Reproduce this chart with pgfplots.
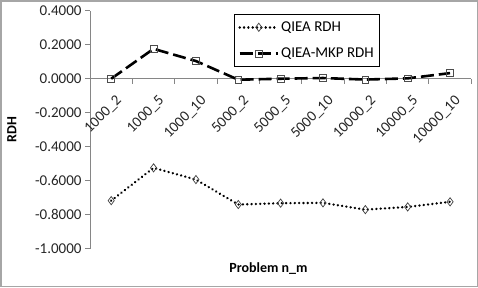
\documentclass[border=0pt]{standalone}
\usepackage{pgfplots}
\pgfplotsset{compat=1.18}
\usepackage{fontspec}
\setmainfont{Carlito}
\definecolor{axgray}{HTML}{868686}
\definecolor{framegray}{HTML}{A6A6A6}
\begin{document}
\begin{tikzpicture}
\draw[framegray, line width=1.5bp] (-89bp,-38bp) rectangle (386bp,247bp);
\begin{axis}[
  at={(0bp,0bp)}, anchor=south west,
  scale only axis, width=380bp, height=237bp,
  xmin=-0.5, xmax=8.5, ymin=-1, ymax=0.4,
  axis x line=middle, axis y line=left,
  axis line style={-, draw=axgray, line width=0.8bp},
  every tick/.style={draw=axgray, line width=0.8bp},
  tick align=outside,
  major tick length=5bp, minor tick length=5bp,
  ytick={-1,-0.8,...,0.41},
  xtick={0,...,8},
  x tick style={draw=none},
  minor xtick={0.5,1.5,...,8.5},
  minor x tick style={draw=axgray, line width=0.8bp},
  xticklabels={1000\_2,1000\_5,1000\_10,5000\_2,5000\_5,5000\_10,10000\_2,10000\_5,10000\_10},
  x tick label style={xshift=4bp, yshift=-9bp, rotate=45, anchor=north east, inner sep=1bp},
  y tick label style={/pgf/number format/.cd, fixed, fixed zerofill, precision=4, /tikz/.cd},
  /pgf/number format/assume math mode=true,
  tick label style={font=\fontsize{15}{17}\selectfont, text=black!85},
  ylabel={\textbf{RDH}},
  ylabel style={at={(axis description cs:-0.205,0.5)}, anchor=center, font=\fontsize{14}{16}\selectfont},
  xlabel={\textbf{Problem n\_m}},
  xlabel style={at={(axis description cs:0.468,-0.085)}, anchor=center, font=\fontsize{14}{16}\selectfont},
  legend style={at={(axis description cs:0.378,0.985)}, anchor=north west, draw=black, line width=0.6bp,
    font=\fontsize{15}{17}\selectfont, inner xsep=4bp, inner ysep=5bp, row sep=11bp},
  legend cell align=left,
  legend image code/.code={\draw[mark repeat=2,mark phase=2,#1] plot coordinates {(0bp,0bp) (19bp,0bp) (38bp,0bp)};},
]
\addplot[black, line width=2.6bp, line cap=round, dash pattern=on 0.01bp off 4.3bp,
  mark=diamond, mark size=4.1bp, mark options={solid, draw=black!75, fill=white, line width=0.7bp}]
  coordinates {(0,-0.718) (1,-0.525) (2,-0.594) (3,-0.741) (4,-0.733) (5,-0.731) (6,-0.771) (7,-0.755) (8,-0.725)};
\addlegendentry{QIEA RDH}
\addplot[black, line width=2.6bp, dash pattern=on 13bp off 5bp,
  mark=square, mark size=3.4bp, mark options={solid, draw=black!70, fill=white, line width=0.7bp}]
  coordinates {(0,0.0) (1,0.176) (2,0.104) (3,-0.006) (4,0.0) (5,0.004) (6,-0.005) (7,0.002) (8,0.033)};
\addlegendentry{QIEA-MKP RDH}
\end{axis}
\end{tikzpicture}
\end{document}
